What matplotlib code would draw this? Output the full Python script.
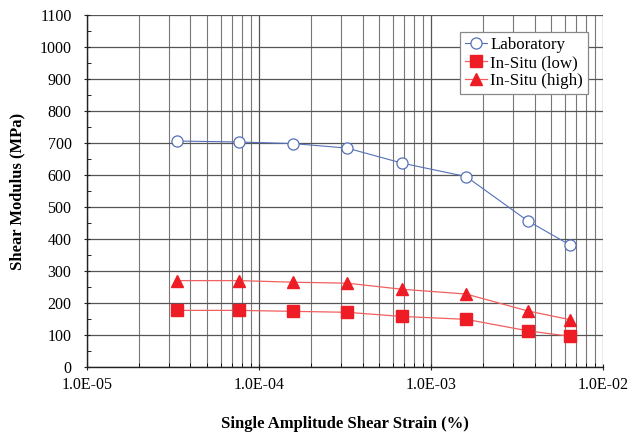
import numpy as np
import matplotlib.pyplot as plt
from matplotlib.ticker import FixedLocator, FixedFormatter, LogLocator, MultipleLocator, NullFormatter

# data
strain = [3.34e-5, 7.65e-5, 1.58e-4, 3.25e-4, 6.78e-4, 1.60e-3, 3.66e-3, 6.43e-3]
lab = [706, 703, 698, 684, 637, 595, 456, 381]
insitu_low = [177, 177, 174, 171, 158, 149, 113, 96]
insitu_high = [270, 270, 265, 262, 243, 228, 175, 148]

xtick_vals = [1e-5, 1e-4, 1e-3, 1e-2]
xtick_labels = ['1.0E-05', '1.0E-04', '1.0E-03', '1.0E-02']

plt.rcParams['font.family'] = ['Liberation Serif', 'DejaVu Serif']

fig = plt.figure(figsize=(6.43, 4.38), dpi=100)
ax = fig.add_axes([0.135, 0.162, 0.803, 0.804])

ax.set_xscale('log')
ax.set_xlim(1e-5, 1e-2)
ax.set_ylim(0, 1100)

# grid
ax.xaxis.set_major_locator(FixedLocator(xtick_vals))
ax.xaxis.set_major_formatter(FixedFormatter(xtick_labels))
ax.xaxis.set_minor_locator(LogLocator(base=10, subs=np.arange(2, 10)))
ax.xaxis.set_minor_formatter(NullFormatter())
ax.yaxis.set_major_locator(MultipleLocator(100))
ax.yaxis.set_minor_locator(MultipleLocator(50))
ax.grid(True, which='major', axis='both', color='#555555', linewidth=0.9)
ax.grid(True, which='minor', axis='x', color='#777777', linewidth=0.8)
ax.set_axisbelow(True)

ax.plot(strain, lab, color='#5470b8', linewidth=0.8, marker='o', markersize=8,
        markerfacecolor='white', markeredgecolor='#5470b8', markeredgewidth=0.9,
        label='Laboratory')
ax.plot(strain, insitu_low, color='#f06060', linewidth=0.9, marker='s', markersize=8,
        markerfacecolor='#ee1c24', markeredgecolor='#ee1c24', label='In-Situ (low)')
ax.plot(strain, insitu_high, color='#f06060', linewidth=0.9, marker='^', markersize=8.5,
        markerfacecolor='#ee1c24', markeredgecolor='#ee1c24', label='In-Situ (high)')

for s in ['top', 'right']:
    ax.spines[s].set_visible(False)
for s in ['left', 'bottom']:
    ax.spines[s].set_color('#222222')
    ax.spines[s].set_linewidth(1.0)

ax.tick_params(axis='both', which='major', labelsize=11.5, length=4, direction='inout', color='#222222')
ax.tick_params(axis='y', which='minor', length=3, direction='in')
ax.tick_params(axis='x', which='minor', length=3, direction='in')
ax.tick_params(axis='x', which='major', pad=5)
ax.tick_params(axis='y', which='major', pad=9)

ax.set_xlabel('Single Amplitude Shear Strain (%)', fontsize=12, fontweight='bold', labelpad=17)
ax.set_ylabel('Shear Modulus (MPa)', fontsize=12, fontweight='bold', labelpad=10)

leg = ax.legend(loc='upper right', bbox_to_anchor=(0.971, 0.952), borderaxespad=0,
                fontsize=12.2, fancybox=False, framealpha=1, edgecolor='#888888',
                handlelength=1.3, borderpad=0.3, labelspacing=0.12, handletextpad=0.2)
leg.get_frame().set_linewidth(0.9)

fig.savefig('out.png', dpi=100)
